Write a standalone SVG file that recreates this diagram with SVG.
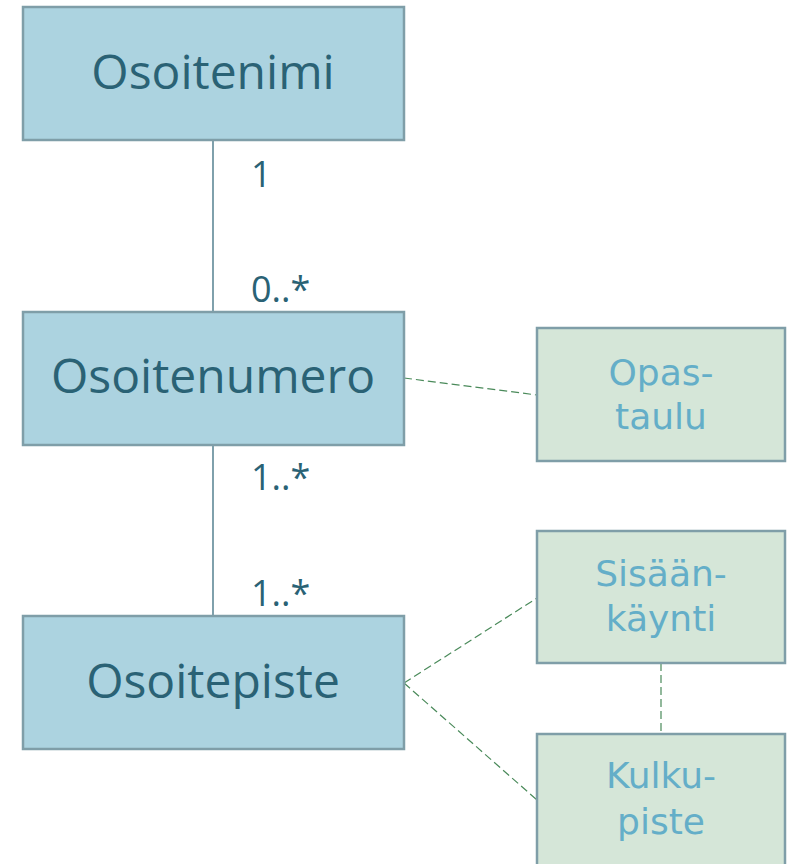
<svg xmlns="http://www.w3.org/2000/svg" width="790" height="864" viewBox="0 0 790 864">
<style>
.main rect{fill:#acd3e0;stroke:#7f9ea8;stroke-width:2.5}
.sub rect{fill:#d5e6d8;stroke:#7f9ea8;stroke-width:2.5}
.main text{font-family:"Open Sans","Noto Sans",sans-serif;font-size:48px;fill:#2a6275;text-anchor:middle}
.sub text{font-family:"DejaVu Sans",sans-serif;font-size:36px;fill:#64aec8;text-anchor:middle}
.mult{font-family:"Open Sans","Noto Sans",sans-serif;font-size:36px;fill:#2a6275}
.solid{stroke:#2a6275;stroke-width:1.2;fill:none}
.dash{stroke:#4a8a5a;stroke-width:1.2;stroke-dasharray:8 4;fill:none}
</style>
<rect width="790" height="864" fill="#ffffff"/>
<g id="connectors">
<line class="solid" x1="213" y1="140" x2="213" y2="312"/>
<line class="solid" x1="213" y1="445" x2="213" y2="616"/>
<line class="dash" x1="404" y1="378" x2="537" y2="395"/>
<line class="dash" x1="404" y1="683" x2="537" y2="598"/>
<line class="dash" x1="404" y1="683" x2="537" y2="800"/>
<line class="dash" x1="661" y1="663" x2="661" y2="734"/>
<text class="mult" x="251" y="187">1</text>
<text class="mult" x="251" y="302">0..*</text>
<text class="mult" x="251" y="490">1..*</text>
<text class="mult" x="251" y="606">1..*</text>
</g>
<g id="osoitenimi" class="main"><rect x="23" y="7" width="381" height="133"/><text x="213" y="89">Osoitenimi</text></g>
<g id="osoitenumero" class="main"><rect x="23" y="312" width="381" height="133"/><text x="213" y="393">Osoitenumero</text></g>
<g id="osoitepiste" class="main"><rect x="23" y="616" width="381" height="133"/><text x="213" y="698">Osoitepiste</text></g>
<g id="opastaulu" class="sub"><rect x="537" y="328" width="248" height="133"/><text x="661" y="385"><tspan x="661" y="385">Opas-</tspan><tspan x="661" y="429">taulu</tspan></text></g>
<g id="sisaankaynti" class="sub"><rect x="537" y="531" width="248" height="132"/><text x="661" y="586"><tspan x="661" y="586">Sisään-</tspan><tspan x="661" y="631">käynti</tspan></text></g>
<g id="kulkupiste" class="sub"><rect x="537" y="734" width="248" height="140"/><text x="661" y="788"><tspan x="661" y="788">Kulku-</tspan><tspan x="661" y="834">piste</tspan></text></g>
</svg>
